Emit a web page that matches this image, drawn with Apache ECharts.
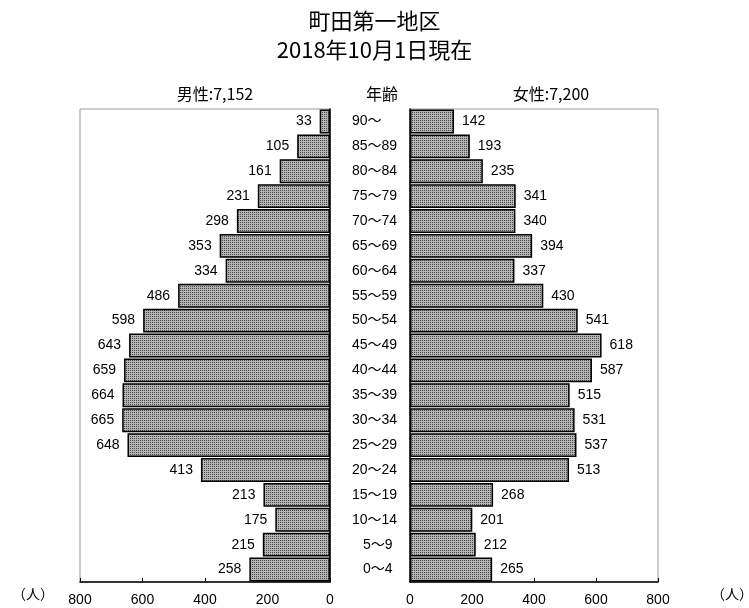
<!DOCTYPE html>
<html><head><meta charset="utf-8">
<script src="https://cdn.jsdelivr.net/npm/echarts@6/dist/echarts.min.js"></script>
<style>html,body{margin:0;padding:0;background:#fff}#c{width:749px;height:608px}</style>
</head><body><div id="c"></div>
<script>
const ageGroups = ['90～','85～89','80～84','75～79','70～74','65～69','60～64','55～59','50～54','45～49','40～44','35～39','30～34','25～29','20～24','15～19','10～14','5～9','0～4'];
const male = [33,105,161,231,298,353,334,486,598,643,659,664,665,648,413,213,175,215,258];
const female = [142,193,235,341,340,394,337,430,541,618,587,515,531,537,513,268,201,212,265];
const axisTicks = [0,200,400,600,800];
const titleLines = ['町田第一地区','2018年10月1日現在'];
const maleLabel = '男性:7,152';
const femaleLabel = '女性:7,200';
const ageLabel = '年齢';
const unitLabel = '（人）';

const font = '"Noto Sans CJK JP","Noto Sans",sans-serif';
const numFont = '"Liberation Sans","Noto Sans CJK JP",sans-serif';
const pc = document.createElement('canvas');
pc.width = 2; pc.height = 2;
const g = pc.getContext('2d');
g.fillStyle = '#b4b4b4'; g.fillRect(0,0,2,2);
g.fillStyle = '#4a4a4a'; g.fillRect(0,0,1,1);
const pattern = {image: pc, repeat: 'repeat'};

const chart = echarts.init(document.getElementById('c'));
const txt = {fontFamily: font, color: '#000', fontWeight: 'normal'};
const ts = s => Object.assign({fontSize: s}, txt);
chart.setOption({
  animation: false,
  backgroundColor: '#fff',
  title: [
    {text: titleLines[0], left: 'center', top: 5, textStyle: ts(22)},
    {text: titleLines[1], left: 'center', top: 34, textStyle: ts(22)},
    {text: maleLabel, left: 210, textAlign: 'center', top: 81, textStyle: ts(16)},
    {text: ageLabel, left: 377, textAlign: 'center', top: 81, textStyle: ts(16)},
    {text: femaleLabel, left: 546, textAlign: 'center', top: 81, textStyle: ts(16)},
    {text: unitLabel, left: 7, top: 582, textStyle: ts(14)},
    {text: unitLabel, left: 706, top: 582, textStyle: ts(14)}
  ],
  grid: [
    {left: 80, top: 109, width: 250, height: 473, show: true, borderColor: '#999', borderWidth: 1, backgroundColor: 'transparent'},
    {left: 410, top: 109, width: 248, height: 473, show: true, borderColor: '#999', borderWidth: 1, backgroundColor: 'transparent'}
  ],
  xAxis: [
    {gridIndex: 0, type: 'value', inverse: true, min: axisTicks[0], max: axisTicks[axisTicks.length-1], interval: 200,
     axisLine: {show: true, lineStyle: {color: '#000', width: 1.5}}, axisTick: {show: true, inside: true, length: 4, lineStyle: {color: '#000'}},
     splitLine: {show: false}, axisLabel: {fontFamily: numFont, fontSize: 14, color: '#000', margin: 11}},
    {gridIndex: 1, type: 'value', min: axisTicks[0], max: axisTicks[axisTicks.length-1], interval: 200,
     axisLine: {show: true, lineStyle: {color: '#000', width: 1.5}}, axisTick: {show: true, inside: true, length: 4, lineStyle: {color: '#000'}},
     splitLine: {show: false}, axisLabel: {fontFamily: numFont, fontSize: 14, color: '#000', margin: 11}}
  ],
  yAxis: [
    {gridIndex: 0, type: 'category', data: ageGroups, inverse: true, position: 'right',
     axisLine: {show: true, lineStyle: {color: '#000', width: 1.5}}, axisTick: {show: false},
     axisLabel: {fontFamily: numFont, fontSize: 14, color: '#000', margin: 22, align: 'left',
       formatter: v => v.indexOf('～') === 1 ? '{p|' + v + '}' : '{n|' + v + '}',
       rich: {p: {fontFamily: numFont, fontSize: 14, color: '#000', padding: [0,0,0,11]}, n: {fontFamily: numFont, fontSize: 14, color: '#000'}}}},
    {gridIndex: 1, type: 'category', data: ageGroups, inverse: true, position: 'left',
     axisLine: {show: true, lineStyle: {color: '#000', width: 1.5}}, axisTick: {show: false}, axisLabel: {show: false}}
  ],
  series: [
    {type: 'bar', xAxisIndex: 0, yAxisIndex: 0, data: male, barCategoryGap: '4%',
     itemStyle: {color: pattern, borderColor: '#000', borderWidth: 1.5},
     label: {show: true, position: 'left', distance: 8, fontFamily: numFont, fontSize: 14, color: '#000'}},
    {type: 'bar', xAxisIndex: 1, yAxisIndex: 1, data: female, barCategoryGap: '4%',
     itemStyle: {color: pattern, borderColor: '#000', borderWidth: 1.5},
     label: {show: true, position: 'right', distance: 8, fontFamily: numFont, fontSize: 14, color: '#000'}}
  ]
});
</script></body></html>
